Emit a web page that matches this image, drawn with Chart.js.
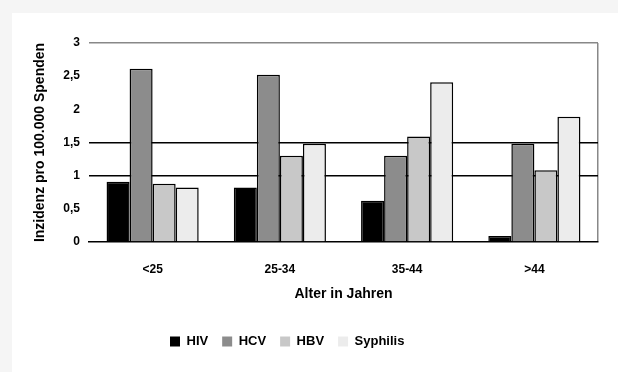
<!DOCTYPE html>
<html>
<head>
<meta charset="utf-8">
<script src="https://cdn.jsdelivr.net/npm/chart.js@4.4.1/dist/chart.umd.min.js"></script>
<style>
  html, body { margin: 0; padding: 0; background: #f5f5f5; }
  #panel { position: absolute; left: 12px; top: 13px; width: 606px; height: 359px; background: #fff; }
</style>
</head>
<body>
<div id="panel"><canvas id="c" width="606" height="359"></canvas></div>
<script>
// ---- data
var ageGroups = ["<25", "25-34", "35-44", ">44"];
var hiv      = [0.91, 0.82, 0.62, 0.09];
var hcv      = [2.61, 2.52, 1.30, 1.48];
var hbv      = [0.88, 1.30, 1.59, 1.08];
var syphilis = [0.82, 1.48, 2.41, 1.89];

var font = "'Liberation Sans', Arial, sans-serif";

function ds(label, data, color) {
  return {
    label: label,
    data: data,
    backgroundColor: color,
    borderColor: '#000',
    borderWidth: 1.5,
    borderSkipped: 'bottom'
  };
}

// nudge the legend left and up, like the original
var legendShift = {
  id: 'legendShift',
  afterLayout: function (chart) {
    var lg = chart.legend;
    lg.left = 144;
    lg.right = 144 + 300;
    lg.top -= 14;
    lg.bottom -= 14;
  }
};

new Chart(document.getElementById('c'), {
  type: 'bar',
  data: {
    labels: ageGroups,
    datasets: [
      ds('HIV', hiv, '#000000'),
      ds('HCV', hcv, '#8c8c8c'),
      ds('HBV', hbv, '#c8c8c8'),
      ds('Syphilis', syphilis, '#ececec')
    ]
  },
  options: {
    responsive: false,
    animation: false,
    layout: { padding: { top: 30, right: 20, bottom: 0, left: 0 } },
    datasets: { bar: { categoryPercentage: 0.724, barPercentage: 1 } },
    plugins: {
      title: { display: false },
      tooltip: { enabled: false },
      legend: {
        position: 'bottom',
        align: 'start',
        labels: {
          color: '#000',
          font: { family: font, size: 13, weight: 'bold' },
          boxWidth: 10,
          boxHeight: 10,
          padding: 14,
          generateLabels: function (chart) {
            return Chart.defaults.plugins.legend.labels.generateLabels(chart).map(function (l) {
              l.lineWidth = 0;
              l.strokeStyle = l.fillStyle;
              return l;
            });
          }
        }
      }
    },
    scales: {
      x: {
        border: { display: true, color: '#000', width: 1.5 },
        grid: {
          drawTicks: false,
          color: function (ctx) { return ctx.type === 'scale' ? '#888' : 'rgba(0,0,0,0)'; },
          lineWidth: 1.5
        },
        ticks: { color: '#000', font: { family: font, size: 12, weight: 'bold' }, padding: 20 },
        title: {
          display: true,
          text: 'Alter in Jahren',
          color: '#000',
          font: { family: font, size: 14, weight: 'bold' },
          padding: { top: 0, bottom: 32 }
        },
        afterFit: function (scale) { scale.height = 93; }
      },
      y: {
        min: 0,
        max: 3,
        border: { display: false },
        grid: {
          drawTicks: false,
          color: function (ctx) {
            var v = ctx.tick ? ctx.tick.value : null;
            if (v === 1 || v === 1.5) return '#000';
            if (v === 3) return '#888';
            return 'rgba(0,0,0,0)';
          },
          lineWidth: 1.5
        },
        ticks: {
          stepSize: 0.5,
          color: '#000',
          padding: 9,
          font: { family: font, size: 12, weight: 'bold' },
          callback: function (v) { return String(v).replace('.', ','); }
        },
        title: {
          display: true,
          text: 'Inzidenz pro 100.000 Spenden',
          color: '#000',
          font: { family: font, size: 14, weight: 'bold' },
          padding: { top: 20, bottom: 0 }
        },
        afterFit: function (scale) { scale.width = 77; }
      }
    }
  },
  plugins: [legendShift]
});
</script>
</body>
</html>
